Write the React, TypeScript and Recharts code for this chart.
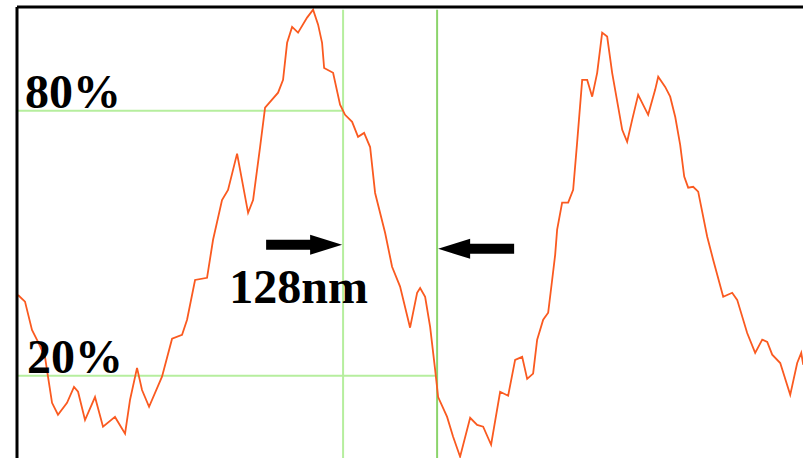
import React from "react";
import {
  LineChart,
  Line,
  XAxis,
  YAxis,
  ReferenceLine,
  ReferenceDot,
} from "recharts";

// position along the scan (nm) and relative intensity (%)
const positionNm = [
  1.4, 10.9, 20.4, 28.6, 38.1, 42.2, 47.7, 55.8, 68.1, 77.6, 83.1, 92.6, 106.2, 117.1, 133.4,
  147.1, 153.9, 163.4, 170.2, 179.8, 197.4, 211.1, 224.7, 231.5, 242.4, 258.7, 266.9, 279.1,
  287.3, 299.6, 314.6, 321.4, 330.9, 337.7, 355.4, 362.2, 367.7, 374.5, 382.6, 394.9, 403.1,
  409.9, 415.3, 418.1, 430.3, 439.8, 446.6, 456.2, 464.3, 472.5, 480.7, 487.5, 501.1, 510.6,
  521.5, 535.1, 544.7, 548.8, 555.6, 562.4, 569.2, 573.3, 585.5, 593.7, 603.2, 616.9, 626.4,
  634.6, 645.4, 657.7, 668.6, 678.1, 687.7, 694.5, 702.6, 708.1, 716.3, 723.1, 728.5, 732.6,
  735.3, 742.1, 750.3, 757.1, 762.5, 769.4, 776.2, 783.0, 789.8, 796.6, 803.4, 810.2, 818.4,
  823.9, 830.6, 837.5, 845.6, 859.2, 868.8, 872.9, 882.4, 889.2, 896.1, 902.8, 908.3, 913.7,
  920.5, 927.3, 939.6, 947.7, 961.4, 973.6, 980.4, 994.0, 1004.9, 1014.5, 1021.3, 1028.1,
  1039.0, 1052.6, 1062.1, 1067.6, 1070.3,
];

const intensity = [
  38.3, 36.8, 30.4, 27.7, 24.3, 19.8, 13.9, 11.2, 13.9, 17.5, 16.4, 10.0, 15.2, 8.5, 10.7,
  6.9, 14.6, 21.8, 16.8, 13.0, 19.8, 28.4, 29.3, 32.7, 41.7, 42.2, 50.8, 59.8, 62.1, 70.3,
  56.9, 59.8, 71.8, 80.7, 84.1, 87.0, 95.4, 99.0, 97.7, 101.1, 102.9, 99.5, 95.4, 89.7, 88.6,
  81.4, 79.1, 77.5, 74.1, 75.0, 71.8, 61.4, 52.4, 44.7, 40.2, 30.9, 38.8, 39.9, 37.9, 31.1,
  21.4, 15.2, 10.7, 6.2, 1.7, 10.5, 8.9, 8.5, 4.4, 16.4, 15.5, 23.6, 24.3, 19.3, 20.5, 28.2,
  32.7, 34.3, 41.7, 47.4, 53.1, 59.2, 59.2, 62.1, 72.8, 87.0, 87.0, 83.2, 88.6, 97.7, 96.8,
  88.6, 80.9, 75.7, 73.0, 78.0, 83.6, 79.1, 84.8, 87.7, 85.4, 83.2, 78.6, 72.3, 65.1, 62.6,
  62.8, 61.7, 51.5, 46.3, 37.9, 38.8, 37.2, 29.7, 25.2, 28.2, 27.7, 24.8, 22.9, 15.7, 22.9,
  25.2, 22.5,
];

// edges measured for the 20%-80% width
const edgeLeftNm = 443.9;
const edgeRightNm = 571.9;
const levels = [80, 20];
const widthLabel = "128nm";

const xDomain = [0, 1070];
const yDomain = [1.4, 103.5];

const data = positionNm.map((x, i) => ({ x, y: intensity[i] }));

const labelFont = {
  fontFamily: "'Liberation Serif', 'Times New Roman', serif",
  fontWeight: 700,
  fontSize: 48,
  fill: "#000",
};

const textShape = (text: string) => (p: any) => (
  <text x={p.cx} y={p.cy} style={labelFont} textAnchor="start">
    {text}
  </text>
);

const arrowShape = (dir: 1 | -1) => (p: any) => {
  const { cx, cy } = p;
  const pts = [
    [0, 0],
    [-32, -10],
    [-32, -5],
    [-76, -5],
    [-76, 5],
    [-32, 5],
    [-32, 10],
  ]
    .map(([dx, dy]) => `${cx + dx * dir},${cy + dy}`)
    .join(" ");
  return <polygon points={pts} fill="#000" />;
};

export default function App() {
  return (
    <div style={{ position: "absolute", left: 0, top: 0, background: "#fff" }}>
      <LineChart
        width={803}
        height={458}
        data={data}
        margin={{ top: 7, right: 0, left: 17, bottom: 0 }}
      >
        <XAxis
          dataKey="x"
          type="number"
          orientation="top"
          domain={xDomain}
          allowDataOverflow
          height={0}
          tick={false}
          tickLine={false}
          axisLine={false}
        />
        <YAxis
          type="number"
          domain={yDomain}
          allowDataOverflow
          width={0}
          tick={false}
          tickLine={false}
          axisLine={false}
        />
        <ReferenceDot x={10.9} y={80.7} r={0} shape={textShape(`${levels[0]}%`)} />
        <ReferenceDot x={13.6} y={20.7} r={0} shape={textShape(`${levels[1]}%`)} />
        <ReferenceDot x={289} y={36.5} r={0} shape={textShape(widthLabel)} />
        <ReferenceLine
          segment={[{ x: 0, y: levels[0] }, { x: edgeLeftNm, y: levels[0] }]}
          stroke="#b6ee9e"
          strokeWidth={2}
        />
        <ReferenceLine
          segment={[{ x: 0, y: levels[1] }, { x: edgeRightNm, y: levels[1] }]}
          stroke="#b6ee9e"
          strokeWidth={2}
        />
        <ReferenceLine
          segment={[{ x: edgeLeftNm, y: 102.9 }, { x: edgeLeftNm, y: yDomain[0] }]}
          stroke="#b6ee9e"
          strokeWidth={2}
        />
        <ReferenceLine
          segment={[{ x: edgeRightNm, y: 102.9 }, { x: edgeRightNm, y: yDomain[0] }]}
          stroke="#8bd46b"
          strokeWidth={2}
        />
        <ReferenceDot x={442.6} y={49.7} r={0} shape={arrowShape(1)} />
        <ReferenceDot x={573.3} y={48.75} r={0} shape={arrowShape(-1)} />
        <Line
          type="linear"
          dataKey="y"
          stroke="#fa5a20"
          strokeWidth={1.8}
          dot={false}
          activeDot={false}
          isAnimationActive={false}
        />
        <ReferenceLine x={xDomain[0]} stroke="#000" strokeWidth={3} ifOverflow="visible" />
        <ReferenceLine y={yDomain[1]} stroke="#000" strokeWidth={3} ifOverflow="visible" />
      </LineChart>
    </div>
  );
}
